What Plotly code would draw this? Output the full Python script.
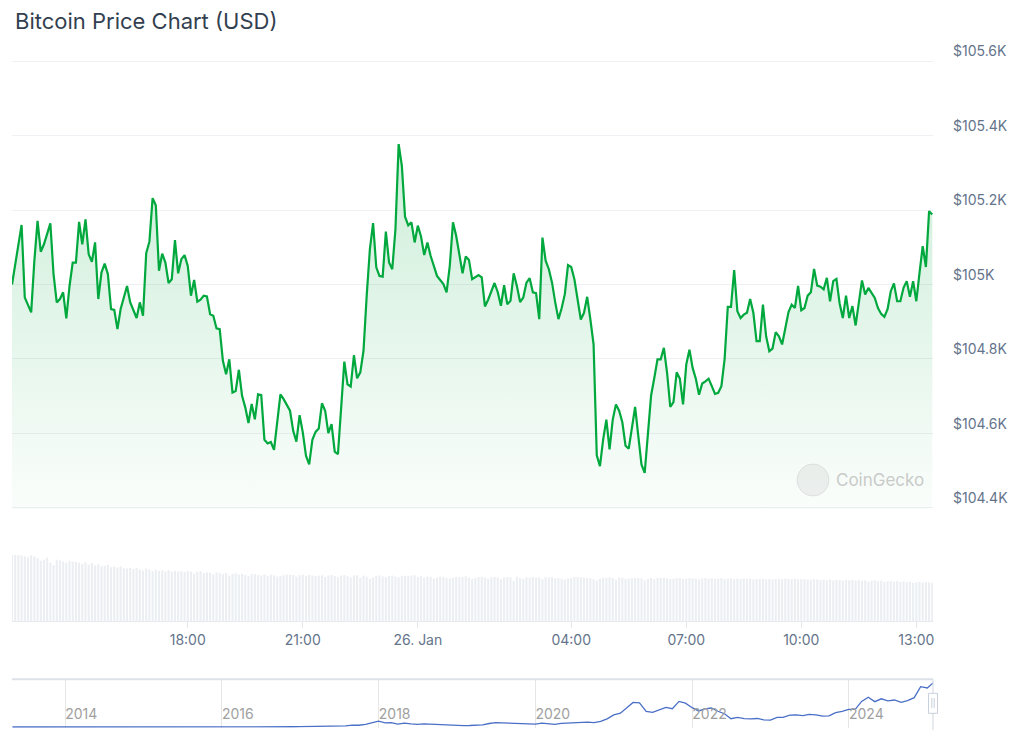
import pandas as pd
import plotly.graph_objects as go

# BTC price, 5-minute steps from 25 Jan 2025 13:25 to 26 Jan 13:25 (None = step not readable)
start_time = "2025-01-25 13:25"
prices = [
    105000, 105050, None, 105160, 104965, None, 104925, 105064, 105171, 105088, 105108, None,
    105164, 105028, 104952, 104961, 104979, 104909, 104996, 105059, 105059, 105168, 105108, 105175,
    105081, 105061, 105113, 104961, 105032, 105056, 105028, 104934, 104932, 104880, 104934, None,
    104996, 104952, None, 104910, 104952, 104916, 105084, 105115, 105232, 105213, 105037, 105083,
    105059, 105004, 105014, 105119, 105030, 105068, 105079, 105050, 104970, 105012, 104954, 104959,
    104970, 104968, 104920, 104916, 104882, 104880, 104795, 104759, 104799, 104710, 104714, 104771,
    104701, 104670, 104628, 104679, 104638, 104705, 104703, 104583, 104573, 104577, 104556, 104629,
    104705, 104692, 104676, 104661, 104607, 104578, 104649, 104603, 104540, 104517, 104583, 104604,
    104613, 104681, 104661, 104601, 104625, 104551, 104544, None, 104793, 104732, 104726, 104810,
    104748, 104764, 104822, 104970, 105095, 105165, 105046, 105023, 105021, 105142, 105059, 105041,
    105149, 105377, 105319, 105182, 105159, 105167, 105113, 105158, 105129, 105079, 105113, 105077,
    105047, 105023, None, 105001, 104979, 105050, 105167, 105131, 105077, 105030, 105075, 105066,
    105014, 105019, 105025, 105019, 104941, 104959, 104979, 105004, 104980, 104943, 104998, 104947,
    104956, 105030, 104996, 104953, 104965, 105005, 105017, 104979, 104977, 104907, 105126, 105064,
    105041, 105005, 104952, 104907, 104936, 104974, 105052, 105047, 105014, 104953, 104906, 104924,
    104967, 104906, 104839, 104541, 104512, 104584, 104637, 104557, 104637, 104678, 104661, 104630,
    104567, 104559, 104615, 104671, 104593, 104516, 104494, 104602, 104702, 104749, 104799, 104799,
    104830, 104763, 104671, 104684, 104764, 104747, 104678, 104785, 104825, 104776, 104747, 104704,
    104734, 104740, 104747, 104727, 104706, 104709, 104727, 104799, 104940, 104940, 105039, 104928,
    104910, 104919, 104924, 104961, 104924, 104848, 104848, 104946, 104861, 104821, 104828, 104872,
    104861, 104839, 104888, 104926, 104946, 104937, 104996, 104931, 104937, 104970, 104979, 105042,
    104997, 104994, 104987, 105018, 104955, 105009, 105015, 104949, 104910, 104970, 104910, 104942,
    104890, 104951, 105011, 104973, 104991, None, 104964, 104937, 104921, 104913, 104934, 104982,
    105003, 104955, 104955, 104991, 105009, 104967, 105009, 104955, 105031, 105103, 105047, 105197,
    105188,
]

# 24h rolling volume (USD bn), one bar per 5-minute step
volumes_bn = [
    46.2, 46.4, 46.3, 46.0, 45.4, 44.6, 46.1, 45.2, 44.0, 42.3, 43.1, 44.5,
    41.0, 39.2, 43.0, 42.5, 41.8, 40.9, 42.2, 41.6, 41.5, 40.8, 40.1, 41.2,
    39.6, 40.5, 38.9, 39.7, 38.4, 38.8, 39.4, 37.6, 38.1, 37.5, 38.3, 37.0,
    36.8, 37.4, 36.5, 37.2, 36.1, 35.4, 36.7, 35.9, 34.8, 36.0, 35.2, 35.5,
    34.9, 35.6, 34.6, 35.3, 34.8, 35.1, 34.4, 35.0, 34.7, 33.2, 34.5, 34.9,
    33.6, 34.1, 33.8, 32.7, 34.0, 33.5, 32.9, 33.6, 31.8, 33.0, 33.4, 32.6,
    33.1, 32.4, 31.6, 32.8, 33.0, 32.2, 31.9, 32.7, 31.4, 32.5, 32.0, 31.2,
    31.5, 32.1, 32.6, 32.4, 32.3, 31.1, 32.2, 32.5, 31.7, 32.4, 32.0, 31.6,
    31.8, 32.0, 30.9, 31.9, 32.3, 31.5, 30.8, 31.9, 32.2, 31.4, 30.6, 32.0,
    32.1, 30.2, 31.8, 31.1, 29.6, 30.5, 31.7, 32.0, 31.3, 30.8, 31.6, 31.9,
    31.2, 30.7, 31.5, 31.8, 31.6, 31.9, 32.0, 30.9, 31.4, 30.3, 31.1, 31.0,
    29.8, 30.6, 31.2, 31.0, 30.2, 29.9, 30.4, 31.0, 30.6, 30.8, 31.3, 30.5,
    29.4, 30.2, 30.9, 31.1, 30.4, 29.7, 30.8, 31.0, 30.6, 29.3, 30.5, 30.9,
    30.6, 28.2, 31.0, 30.1, 29.6, 30.7, 30.3, 30.9, 30.5, 30.6, 29.2, 30.8,
    30.4, 30.7, 29.9, 30.2, 29.5, 29.1, 29.8, 30.1, 31.0, 30.8, 30.5, 30.6,
    30.2, 30.0, 29.3, 28.4, 29.7, 30.4, 30.3, 30.6, 30.1, 29.0, 30.4, 30.5,
    29.6, 29.8, 30.0, 30.3, 30.2, 29.9, 28.6, 29.5, 30.1, 29.4, 30.2, 30.4,
    30.3, 29.8, 29.5, 29.7, 30.0, 30.2, 29.4, 29.6, 30.1, 29.9, 29.7, 29.2,
    29.9, 30.1, 29.6, 29.8, 29.5, 29.7, 30.0, 29.3, 29.6, 29.9, 29.4, 29.8,
    29.3, 29.7, 29.5, 29.8, 29.1, 29.6, 29.4, 29.7, 29.2, 29.5, 29.0, 29.4,
    29.6, 29.4, 29.7, 29.5, 29.3, 29.6, 29.2, 29.5, 29.4, 29.1, 28.9, 29.3,
    29.2, 28.8, 29.0, 28.6, 29.1, 28.4, 28.9, 28.7, 28.2, 28.8, 28.5, 28.9,
    28.3, 28.6, 28.1, 28.4, 27.5, 28.2, 28.5, 27.9, 28.3, 27.4, 27.8, 28.1,
    27.6, 27.9, 27.3, 27.7, 27.2, 27.5, 26.8, 27.1, 27.4, 26.9, 27.3, 27.0,
    26.8,
]

tick_times = ["2025-01-25 18:00", "2025-01-25 21:00", "2025-01-26 00:00", "2025-01-26 04:00",
              "2025-01-26 07:00", "2025-01-26 10:00", "2025-01-26 13:00"]
tick_labels = ["18:00", "21:00", "26. Jan", "04:00", "07:00", "10:00", "13:00"]

price_ticks = [104400, 104600, 104800, 105000, 105200, 105400, 105600]
price_tick_labels = ["$104.4K", "$104.6K", "$104.8K", "$105K", "$105.2K", "$105.4K", "$105.6K"]

# navigator: month-end BTC price, Apr 2013 .. Dec 2024
nav_start = "2013-04-30"
nav_prices = [
    140, 130, 100, 105, 135, 135, 200, 1100, 750,
    850, 550, 450, 450, 630, 640, 580, 480, 390, 340, 380, 320,
    220, 255, 245, 235, 230, 265, 285, 230, 235, 315, 375, 430,
    370, 435, 415, 450, 530, 670, 625, 575, 610, 700, 740, 960,
    970, 1190, 1080, 1350, 2300, 2480, 2870, 4700, 4340, 6450, 10000, 14000,
    10200, 10400, 6900, 9200, 7500, 6400, 7700, 7000, 6600, 6300, 4000, 3700,
    3450, 3800, 4100, 5300, 8500, 10800, 10100, 9600, 8300, 9200, 7550, 7200,
    9350, 8600, 6400, 8650, 9450, 9140, 11350, 11650, 10780, 13800, 19700, 29000,
    33100, 45100, 58800, 57700, 37300, 35000, 41500, 47100, 43800, 61300, 57000, 46300,
    38500, 43200, 45500, 37700, 31800, 19900, 23300, 20000, 19400, 20500, 17200, 16550,
    23100, 23150, 28500, 29300, 27200, 30500, 29200, 25900, 26900, 34500, 37700, 42300,
    42600, 61200, 71300, 60700, 67500, 62700, 64600, 59000, 63300, 70200, 96400, 93400,
]

times = pd.date_range(start_time, periods=len(prices), freq="5min")
nav_dates = list(pd.date_range(nav_start, periods=len(nav_prices), freq="ME")) + [times[-1]]
nav_values = nav_prices + [prices[-1]]

GREEN = "#00a83e"
OFF = 8          # page body margin
W, H = 1024 - OFF, 747 - OFF


def py(y):
    # window pixel row -> paper y
    return 1 - (y - OFF) / H


fig = go.Figure()

# Volume bars
fig.add_trace(go.Bar(
    x=times, y=volumes_bn, xaxis="x", yaxis="y2",
    marker=dict(color="#ebeef2", line=dict(width=0)),
    width=195000, hoverinfo="skip"))

# Price line with gradient area
fig.add_trace(go.Scatter(
    x=times, y=prices, xaxis="x", yaxis="y", mode="lines", connectgaps=True,
    line=dict(color=GREEN, width=2.2),
    fill="tozeroy",
    fillgradient=dict(type="vertical", start=104400, stop=105400,
                      colorscale=[[0, "rgba(0,168,62,0.02)"], [1, "rgba(0,168,62,0.2)"]])))

# Navigator series
fig.add_trace(go.Scatter(
    x=nav_dates, y=nav_values, xaxis="x2", yaxis="y3", mode="lines",
    line=dict(color="#4a6fc6", width=1.3), hoverinfo="skip"))

fig.update_layout(
    width=W, height=H,
    margin=dict(l=12 - OFF, r=91, t=0, b=0),
    paper_bgcolor="white", plot_bgcolor="white",
    showlegend=False,
    font=dict(family="Inter, sans-serif", size=14, color="#64748b"),
    xaxis=dict(
        domain=[0, 1], anchor="y2", automargin=False,
        range=["2025-01-25 13:25:00", "2025-01-26 13:26:06"],
        tickvals=tick_times, ticktext=tick_labels,
        ticks="outside", ticklen=6, tickcolor="#e3e7ec", tickwidth=1,
        showgrid=False, zeroline=False, showline=True, linecolor="#e6e9ee",
        tickfont=dict(size=14, color="#64748b")),
    yaxis=dict(
        domain=[py(509), py(60)], anchor="x", side="right", automargin=False,
        range=[104397, 105603], tickvals=price_ticks, ticktext=price_tick_labels,
        ticks="", ticklabelposition="outside top", ticklabelstandoff=19,
        showgrid=True, gridcolor="#eef0f3", gridwidth=1, zeroline=False, showline=False,
        tickfont=dict(size=14, color="#64748b")),
    yaxis2=dict(domain=[py(621), py(545)], anchor="x", range=[0, 53.3], visible=False,
                automargin=False),
    xaxis2=dict(
        domain=[0, 1], anchor="y3", automargin=False,
        range=["2013-04-28", "2025-01-26 13:26"],
        tick0="2014-01-01", dtick="M24", tickformat="%Y",
        ticks="", ticklabelposition="inside right",
        showgrid=True, gridcolor="#e6e6e6", zeroline=False, showline=False,
        tickfont=dict(size=14, color="#a0a0a0")),
    yaxis3=dict(domain=[py(727.7), py(679.3)], anchor="x2", range=[-1500, 114000], visible=False,
                automargin=False),
)

# Title
fig.add_annotation(text="Bitcoin Price Chart (USD)", xref="paper", yref="paper",
                   x=0.001, y=py(21), xanchor="left", yanchor="middle", showarrow=False,
                   font=dict(size=22, color="#333f50"))

# CoinGecko watermark
fig.add_shape(type="circle", xref="paper", yref="paper",
              x0=(797 - 12) / 921, x1=(829 - 12) / 921, y0=py(496), y1=py(464),
              fillcolor="rgba(205,205,205,0.3)", line=dict(color="rgba(200,200,200,0.45)", width=1),
              layer="above")
fig.add_annotation(text="CoinGecko", xref="paper", yref="paper",
                   x=(834 - 12) / 921, y=py(480), xanchor="left", yanchor="middle",
                   showarrow=False, font=dict(size=17, color="#c9cbc9"))

# Navigator frame: top border, selection edge and handle
NAV_H = 727.7 - 679.3
fig.add_shape(type="line", xref="x2 domain", yref="y3 domain", x0=0, x1=1, y0=1, y1=1,
              line=dict(color="#dde2e8", width=2))
fig.add_shape(type="line", xref="x2 domain", yref="y3 domain", x0=1, x1=1, y0=-0.05, y1=1,
              line=dict(color="#cfd7e0", width=1))
fig.add_shape(type="rect", xref="x2 domain", yref="y3 domain",
              x0=1 - 4.5 / 921, x1=1 + 4.5 / 921,
              y0=(727.7 - 713.3) / NAV_H, y1=(727.7 - 693.3) / NAV_H,
              fillcolor="white", line=dict(color="#c7d0db", width=1))
for dx in (-1.2, 1.2):
    fig.add_shape(type="line", xref="x2 domain", yref="y3 domain",
                  x0=1 + dx / 921, x1=1 + dx / 921,
                  y0=(727.7 - 708) / NAV_H, y1=(727.7 - 698) / NAV_H,
                  line=dict(color="#c7d0db", width=1))

fig.write_html("out.html")
